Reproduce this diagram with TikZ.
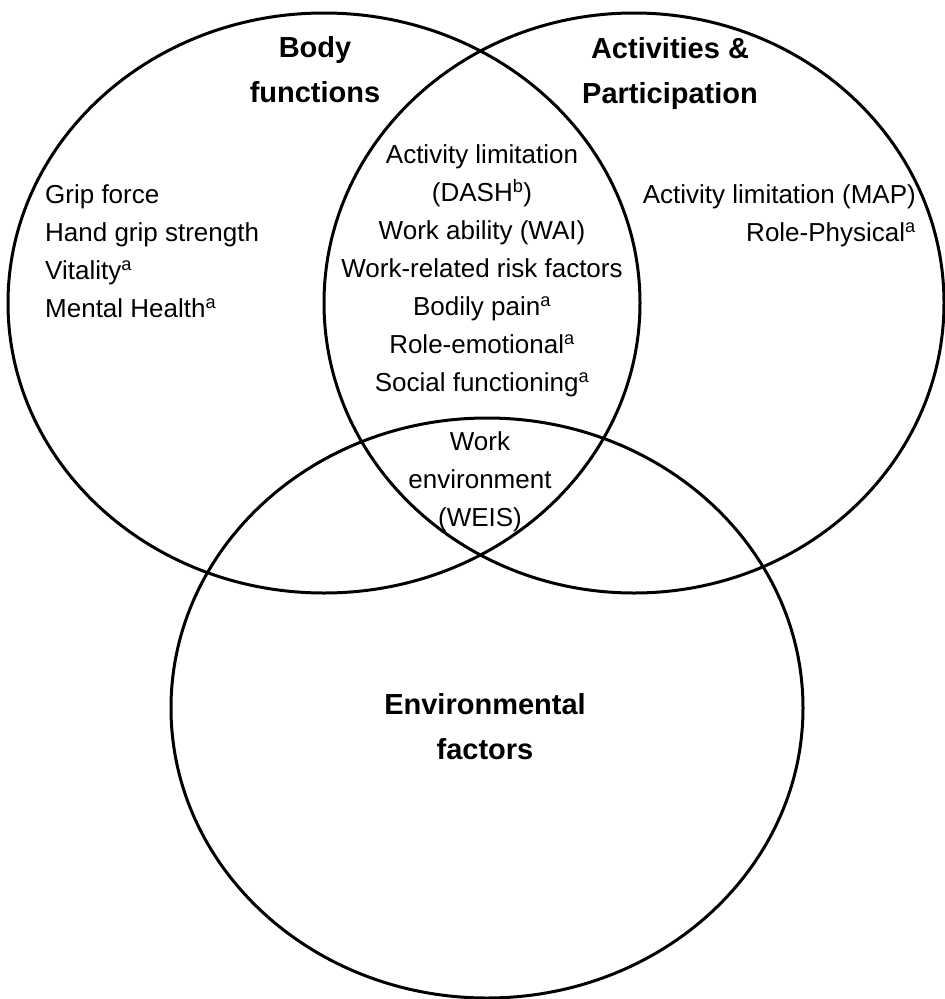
\documentclass[tikz,border=0pt]{standalone}
\usepackage{fontspec}
\setmainfont{Liberation Sans}
\usetikzlibrary{shapes.geometric}

\begin{document}
\begin{tikzpicture}[x=1pt,y=-1pt,
    venn/.style={draw,ellipse,line width=3pt,inner sep=0pt},
    head/.style={font=\fontsize{29}{45}\selectfont\bfseries,align=center,inner sep=0pt},
    item/.style={font=\fontsize{26}{38}\selectfont,inner sep=0pt}]
    \useasboundingbox (0,0) rectangle (945,999);
    % Domains
    \node[venn,minimum width=632,minimum height=580] (body) at (324,303) {};
    \node[venn,minimum width=620,minimum height=580] (act) at (634,303) {};
    \node[venn,minimum width=632,minimum height=580] (env) at (487,708) {};
    % Headings
    \node[head] (bodyhead) at (315,70) {Body\\functions};
    \node[head] (acthead) at (670,73) {Activities \&\\Participation};
    \node[head] (envhead) at (485,727) {Environmental\\factors};
    % Measures
    \node[item,align=left,anchor=west] (bodyitems) at (45,251)
        {Grip force\\Hand grip strength\\Vitality\textsuperscript{a}\\Mental Health\textsuperscript{a}};
    \node[item,align=right,anchor=east] (actitems) at (916,216)
        {Activity limitation (MAP)\\Role-Physical\textsuperscript{a}};
    \node[item,align=center] (bothitems) at (482,271)
        {Activity limitation\\(DASH\textsuperscript{b})\\Work ability (WAI)\\Work-related risk factors\\
         Bodily pain\textsuperscript{a}\\Role-emotional\textsuperscript{a}\\Social functioning\textsuperscript{a}};
    \node[item,align=center] (allitems) at (480,482) {Work\\environment\\(WEIS)};
\end{tikzpicture}
\end{document}
